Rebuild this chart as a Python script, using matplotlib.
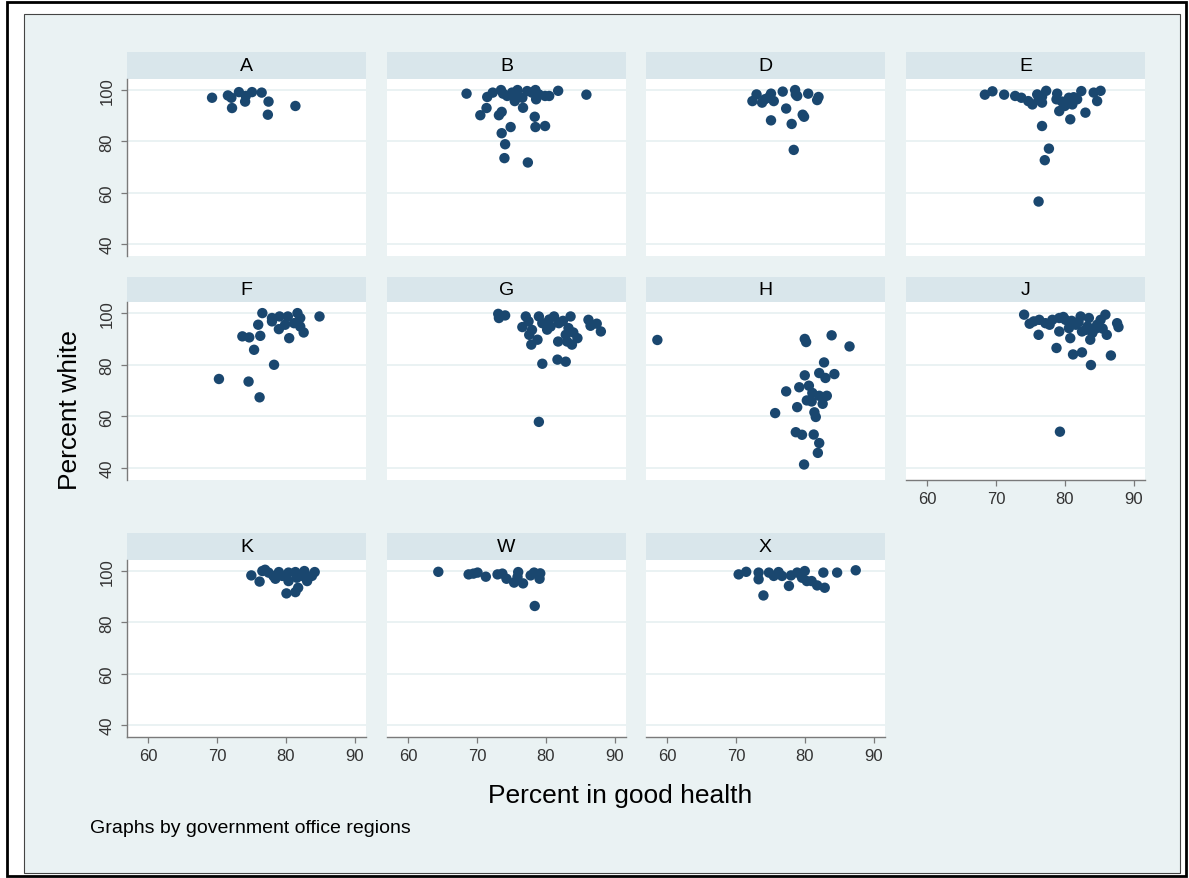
import matplotlib
matplotlib.use("Agg")
import matplotlib.pyplot as plt
from matplotlib.patches import Rectangle

plt.rcParams['font.family'] = ['Liberation Sans Narrow', 'Liberation Sans', 'DejaVu Sans']

# ---- data: percent in good health (x) and percent white (y) by region ----
A_health = [69.3, 71.6, 72.1, 73.2, 74.2, 75.1, 76.5, 74.1, 72.2, 77.5, 81.4, 77.4]
A_white = [97.0, 97.9, 97.0, 99.2, 97.7, 99.2, 99.0, 95.5, 93.0, 95.5, 93.8, 90.4]

B_health = [68.5, 71.5, 72.3, 73.5, 73.8, 71.4, 70.5, 73.2, 73.6, 75.9, 75.6, 75.5, 76.6,
            77.3, 78.5, 78.6, 79.9, 80.5, 81.8, 85.9, 76.7, 78.4, 78.5, 79.9, 74.9, 73.6,
            74.1, 74.0, 77.4, 78.0, 75.1, 79.0, 74.4]
B_white = [98.6, 97.3, 99.0, 100.0, 98.6, 93.0, 90.2, 90.2, 91.5, 100.0, 97.0, 95.7, 97.0,
           99.6, 100.0, 96.4, 97.7, 97.7, 99.7, 98.2, 93.1, 89.6, 85.6, 86.0, 85.6, 83.2,
           78.9, 73.5, 71.8, 99.0, 99.0, 98.3, 97.7]

D_health = [73.0, 72.4, 73.8, 74.2, 75.1, 75.5, 76.8, 78.6, 78.7, 78.9, 80.5, 82.0, 81.8,
            77.3, 79.7, 79.9, 75.1, 78.1, 78.4, 74.7]
D_white = [98.3, 95.7, 95.1, 96.4, 98.6, 95.7, 99.4, 100.0, 98.3, 97.7, 98.6, 97.3, 96.1,
           92.8, 90.4, 89.6, 88.2, 86.8, 76.7, 97.0]

E_health = [68.4, 69.5, 71.2, 72.8, 73.7, 74.7, 75.3, 76.0, 76.7, 77.3, 76.7, 78.9, 78.8,
            79.2, 80.0, 80.6, 81.1, 81.8, 82.4, 80.8, 83.0, 84.2, 85.2, 84.7, 76.7, 77.7,
            77.1, 76.2, 79.6, 81.3, 76.2]
E_white = [98.2, 99.5, 98.2, 97.7, 97.0, 95.7, 94.4, 98.3, 97.4, 99.7, 95.1, 98.6, 96.4,
           91.8, 93.8, 97.0, 94.4, 96.4, 99.6, 88.6, 91.2, 99.0, 99.7, 95.7, 86.0, 77.2,
           72.7, 56.6, 95.5, 97.2, 96.2]

F_health = [76.6, 78.0, 78.0, 79.1, 80.3, 81.7, 82.1, 81.2, 79.9, 79.0, 82.1, 82.6, 84.9,
            76.0, 73.7, 74.7, 76.3, 80.5, 75.4, 78.3, 70.3, 74.6, 76.2]
F_white = [100.0, 98.1, 96.8, 98.7, 98.7, 100.0, 98.1, 96.1, 95.5, 93.8, 94.8, 92.5, 98.7,
           95.5, 91.0, 90.6, 91.2, 90.3, 85.8, 80.0, 74.5, 73.5, 67.4]

G_health = [73.1, 73.2, 74.1, 77.1, 77.5, 76.6, 77.6, 77.9, 78.8, 79.0, 79.5, 80.2, 81.2,
            80.7, 81.9, 81.8, 82.9, 83.6, 83.3, 83.1, 83.8, 84.6, 86.2, 86.5, 87.4, 88.0,
            79.5, 81.7, 82.9, 79.0, 80.5, 82.5, 78.0, 84.0]
G_white = [99.7, 98.1, 99.1, 98.7, 96.8, 94.6, 91.6, 87.8, 89.7, 98.7, 96.1, 93.6, 98.7,
           94.8, 96.1, 89.0, 91.6, 98.7, 94.2, 89.0, 87.8, 90.3, 97.4, 95.1, 95.9, 92.9,
           80.4, 82.0, 81.2, 57.9, 97.5, 97.0, 93.5, 92.5]

H_health = [58.6, 80.0, 80.2, 83.9, 86.5, 82.8, 80.0, 82.1, 83.0, 84.3, 79.2, 80.6, 77.3,
            81.1, 82.1, 83.2, 80.3, 81.0, 82.6, 78.9, 75.7, 81.4, 81.6, 78.7, 79.6, 81.3,
            82.1, 81.9, 79.9]
H_white = [89.6, 90.0, 88.8, 91.4, 87.1, 80.9, 75.9, 76.8, 74.9, 76.4, 71.3, 71.9, 69.7,
           69.1, 68.0, 68.0, 66.2, 65.8, 64.9, 63.6, 61.3, 61.6, 59.8, 53.9, 52.9, 53.0,
           49.7, 45.9, 41.4]

J_health = [74.1, 74.9, 76.3, 76.2, 77.2, 78.2, 79.2, 79.2, 80.1, 80.6, 80.8, 81.6, 82.3,
            82.5, 83.5, 83.3, 83.7, 82.5, 84.0, 84.7, 85.9, 86.1, 87.6, 87.8, 78.8, 81.2,
            86.7, 83.8, 79.3, 85.2, 79.8, 81.0, 82.0, 83.0, 84.5, 85.5, 75.5, 77.8]
J_white = [99.4, 95.9, 97.4, 91.6, 96.1, 97.4, 98.1, 92.9, 97.4, 94.2, 90.3, 95.5, 98.7,
           92.9, 98.1, 94.8, 89.7, 84.8, 92.3, 95.5, 99.4, 91.6, 96.1, 94.6, 86.5, 84.0,
           83.6, 79.9, 54.1, 97.4, 98.5, 97.0, 96.5, 93.5, 94.0, 94.0, 96.8, 95.5]

K_health = [75.0, 76.2, 76.6, 77.0, 77.5, 78.2, 79.0, 79.5, 80.4, 80.4, 81.4, 81.6, 80.1,
            81.4, 81.8, 82.7, 83.1, 83.8, 84.2, 82.5, 78.5]
K_white = [98.3, 95.9, 100.0, 100.5, 99.4, 98.1, 99.6, 98.1, 99.4, 96.1, 99.6, 97.4, 91.3,
           91.8, 93.5, 100.0, 96.1, 98.1, 99.6, 98.0, 97.0]

W_health = [64.4, 68.8, 69.5, 70.1, 71.3, 73.0, 73.7, 74.3, 75.4, 76.0, 75.9, 76.7, 77.8,
            78.3, 79.2, 79.1, 78.4]
W_white = [99.7, 98.7, 99.0, 99.4, 97.8, 98.7, 99.0, 97.0, 95.5, 99.6, 97.7, 95.2, 98.3,
           99.4, 99.1, 97.0, 86.4]

X_health = [70.4, 71.5, 73.3, 73.3, 74.0, 74.8, 75.5, 76.2, 76.7, 77.7, 78.0, 78.9, 80.0,
            79.6, 80.3, 81.0, 81.8, 82.9, 82.7, 84.7, 87.4]
X_white = [98.7, 99.7, 99.4, 96.8, 90.5, 99.4, 98.1, 99.6, 98.1, 94.2, 98.3, 99.4, 100.0,
           97.4, 96.1, 96.1, 94.4, 93.5, 99.4, 99.4, 100.3]

regions = ["A", "B", "D", "E", "F", "G", "H", "J", "K", "W", "X"]
health = [A_health, B_health, D_health, E_health, F_health, G_health, H_health, J_health,
          K_health, W_health, X_health]
white = [A_white, B_white, D_white, E_white, F_white, G_white, H_white, J_white,
         K_white, W_white, X_white]

x_ticks = [60, 70, 80, 90]
y_ticks = [40, 60, 80, 100]

# ---- styling ----
BG = "#EAF2F3"
STRIP = "#D9E6EB"
GRID = "#EAF2F3"
MARK = "#1A476F"
AXIS = "#7A7A7A"

W, H = 1189, 879
fig = plt.figure(figsize=(W / 100, H / 100), dpi=100)
fig.patch.set_facecolor("white")


def fig_rect(x0, y0, x1, y1):
    return [x0 / W, 1 - y1 / H, (x1 - x0) / W, (y1 - y0) / H]


# outer frame and graph region
fig.add_artist(Rectangle((7 / W, 2 / H), 1179 / W, 874 / H, transform=fig.transFigure,
                         facecolor="white", edgecolor="black", lw=2, zorder=-3))
fig.add_artist(Rectangle((24 / W, 5 / H), 1156 / W, 859 / H, transform=fig.transFigure,
                         facecolor=BG, edgecolor="#444444", lw=0.8, zorder=-2))

col_left = [127, 387, 646, 906]
col_w = 239
rows_plot = [(80, 257), (303, 481), (561, 738)]
rows_strip = [(53, 80), (278, 303), (534, 561)]

for i, name in enumerate(regions):
    r, c = divmod(i, 4)
    x0 = col_left[c]
    x1 = x0 + col_w
    pt, pb = rows_plot[r]
    st, sb = rows_strip[r]

    # strip with region name
    fig.add_artist(Rectangle((x0 / W, 1 - sb / H), col_w / W, (sb - st) / H,
                             transform=fig.transFigure, facecolor=STRIP,
                             edgecolor="none", zorder=-1))
    fig.text((x0 + x1) / 2 / W, 1 - (st + sb) / 2 / H, name, ha="center", va="center",
             fontsize=14, color="black")

    ax = fig.add_axes(fig_rect(x0, pt, x1, pb))
    ax.set_facecolor("white")
    ax.set_xlim(56.95, 91.65)
    ax.set_ylim(35.4, 104.3)
    for yv in y_ticks:
        ax.axhline(yv, color=GRID, lw=1.4, zorder=1)
    ax.scatter(health[i], white[i], s=56, color=MARK, edgecolors="none", zorder=3)

    for sp in ax.spines.values():
        sp.set_visible(False)

    show_y = c == 0
    show_x = r == 2 or name == "J"

    ax.set_yticks(y_ticks)
    ax.set_xticks(x_ticks)
    if show_y:
        ax.spines["left"].set_visible(True)
        ax.spines["left"].set_color(AXIS)
        ax.spines["left"].set_linewidth(1.0)
        ax.tick_params(axis="y", length=4, width=0.9, color=AXIS, pad=5,
                       labelsize=12, labelcolor="#333333")
        for lab in ax.get_yticklabels():
            lab.set_rotation(90)
            lab.set_va("center")
    else:
        ax.tick_params(axis="y", left=False, labelleft=False)
    if show_x:
        ax.spines["bottom"].set_visible(True)
        ax.spines["bottom"].set_color(AXIS)
        ax.spines["bottom"].set_linewidth(1.0)
        ax.tick_params(axis="x", length=4, width=0.9, color=AXIS, pad=4,
                       labelsize=12, labelcolor="#333333")
    else:
        ax.tick_params(axis="x", bottom=False, labelbottom=False)

fig.text(70 / W, 1 - 410 / H, "Percent white", rotation=90, ha="center", va="center",
         fontsize=19, color="black")
fig.text(620 / W, 1 - 796 / H, "Percent in good health", ha="center", va="center",
         fontsize=19, color="black")
fig.text(90 / W, 1 - 829 / H, "Graphs by government office regions", ha="left",
         va="center", fontsize=14, color="black")

fig.savefig("out.png", dpi=100, facecolor="white")
